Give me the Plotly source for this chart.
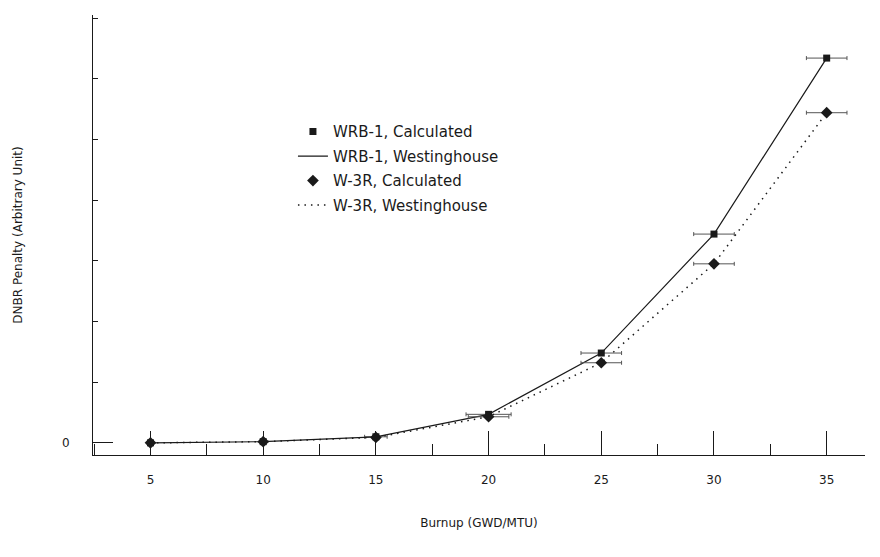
import plotly.graph_objects as go

burnup = [5, 10, 15, 20, 25, 30, 35]
wrb1_calc = [0.0, 0.02, 0.10, 0.47, 1.48, 3.44, 6.34]
wrb1_west = [0.0, 0.02, 0.10, 0.47, 1.48, 3.44, 6.34]
w3r_calc = [0.0, 0.02, 0.09, 0.43, 1.32, 2.95, 5.44]
w3r_west = [0.0, 0.02, 0.09, 0.43, 1.32, 2.95, 5.44]
wrb1_err = [0.0, 0.0, 0.5, 1.0, 0.9, 0.9, 0.9]
w3r_err = [0.0, 0.0, 0.0, 0.9, 0.9, 0.9, 0.9]

font_family = "DejaVu Sans, Liberation Sans, Arial, sans-serif"
ink = "#1a1a1a"

fig = go.Figure()
fig.add_trace(go.Scatter(
    x=burnup, y=wrb1_calc, mode="markers", name="WRB-1, Calculated",
    legendgroup="a",
    marker=dict(symbol="square", size=7, color=ink),
    error_x=dict(type="data", array=wrb1_err, thickness=1, width=2, color="#555"),
))
fig.add_trace(go.Scatter(
    x=burnup, y=wrb1_west, mode="lines", name="WRB-1, Westinghouse",
    legendgroup="b",
    line=dict(color=ink, width=1.2),
))
fig.add_trace(go.Scatter(
    x=burnup, y=w3r_calc, mode="markers", name="W-3R, Calculated",
    legendgroup="c",
    marker=dict(symbol="diamond", size=9, color=ink),
    error_x=dict(type="data", array=w3r_err, thickness=1, width=2, color="#555"),
))
fig.add_trace(go.Scatter(
    x=burnup, y=w3r_west, mode="lines", name="W-3R, Westinghouse",
    legendgroup="d",
    line=dict(color=ink, width=1.5, dash="1.5px,5px"),
))

fig.update_layout(
    width=880, height=557,
    margin=dict(l=93, r=15, t=15, b=102),
    paper_bgcolor="white", plot_bgcolor="white",
    font=dict(family=font_family, size=12, color=ink),
    showlegend=True,
    legend=dict(
        x=0.259, y=0.772, xanchor="left", yanchor="top",
        bgcolor="rgba(0,0,0,0)", tracegroupgap=2,
        font=dict(size=15, color=ink),
    ),
    xaxis=dict(
        range=[2.45, 36.7], tickvals=burnup, ticktext=[str(v) for v in burnup],
        ticks="inside", ticklen=24, tickwidth=1, tickcolor=ink,
        minor=dict(dtick=2.5, tick0=0, ticks="inside", ticklen=11, tickwidth=1, tickcolor=ink),
        showline=True, linecolor=ink, linewidth=1,
        showgrid=False, zeroline=False, automargin=False,
        ticklabelstandoff=14,
        tickfont=dict(size=12),
        title=dict(text="Burnup (GWD/MTU)", font=dict(size=12), standoff=32),
    ),
    yaxis=dict(
        range=[-0.2, 7.05], tickvals=[0], ticktext=["0"],
        ticks="inside", ticklen=20, tickwidth=1, tickcolor=ink,
        minor=dict(dtick=1, tick0=0, ticks="inside", ticklen=5, tickwidth=1, tickcolor=ink),
        showline=True, linecolor=ink, linewidth=1,
        showgrid=False, zeroline=False, automargin=False,
        ticklabelstandoff=20,
        tickfont=dict(size=12),
        title=dict(text="DNBR Penalty (Arbitrary Unit)", font=dict(size=12), standoff=36),
    ),
)

fig.write_html(
    "out.html",
    config={"displayModeBar": False},
    post_script="document.body.style.margin='0';",
)
